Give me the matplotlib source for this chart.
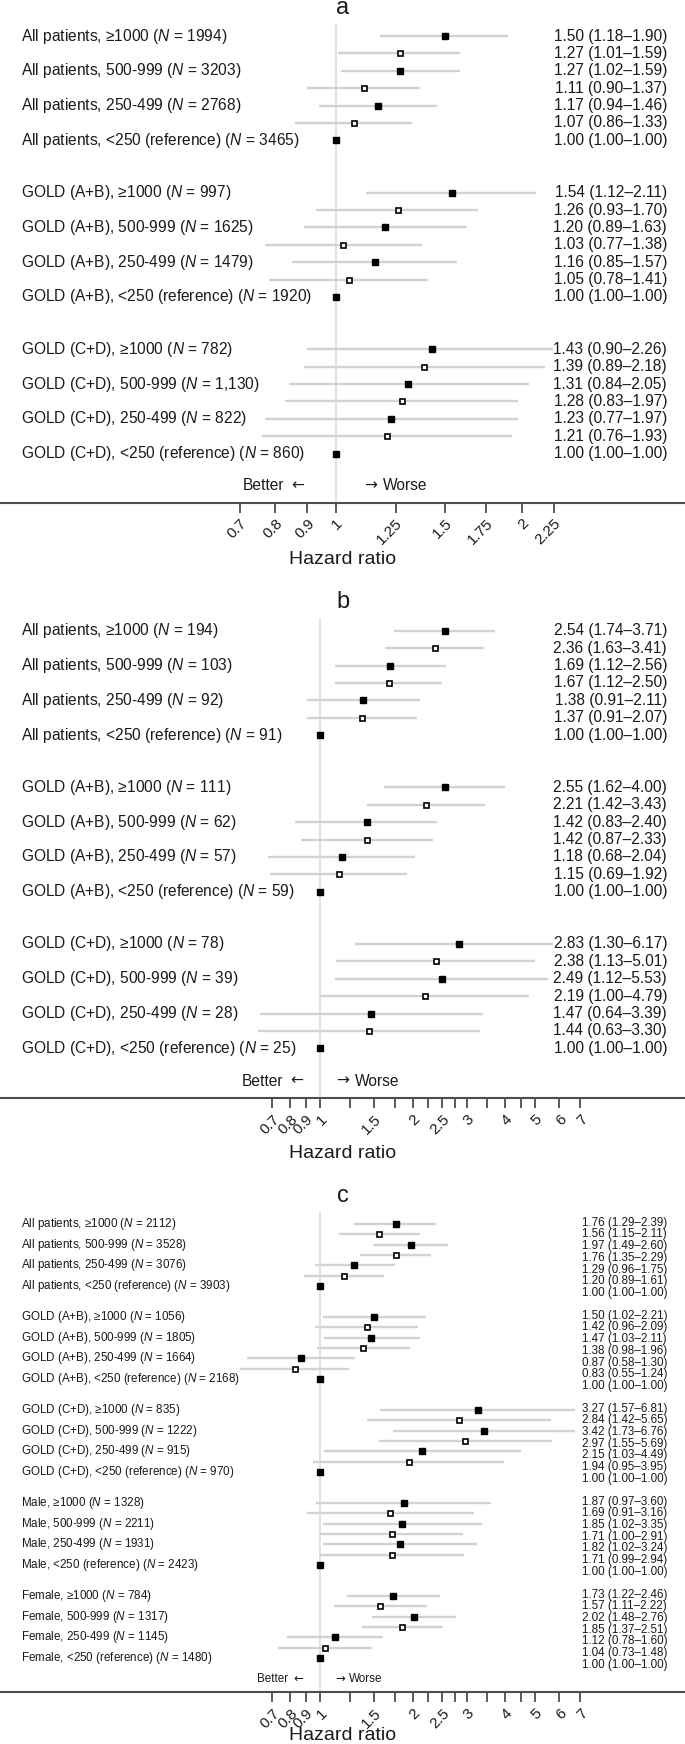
import numpy as np
import matplotlib
matplotlib.use('Agg')
import matplotlib.pyplot as plt
from matplotlib.ticker import NullFormatter
from matplotlib.transforms import blended_transform_factory, Bbox, TransformedBbox

# dose categories shown as row labels (filled squares); each group has 7 rows,
# filled and open squares alternating
levels = ['≥1000', '500-999', '250-499', '<250 (reference)']

# panel a
a_groups = ['All patients', 'GOLD (A+B)', 'GOLD (C+D)']
a_n = [['1994', '3203', '2768', '3465'],
       ['997', '1625', '1479', '1920'],
       ['782', '1,130', '822', '860']]
a_hr = [[1.50, 1.27, 1.27, 1.11, 1.17, 1.07, 1.00],
        [1.54, 1.26, 1.20, 1.03, 1.16, 1.05, 1.00],
        [1.43, 1.39, 1.31, 1.28, 1.23, 1.21, 1.00]]
a_lo = [[1.18, 1.01, 1.02, 0.90, 0.94, 0.86, 1.00],
        [1.12, 0.93, 0.89, 0.77, 0.85, 0.78, 1.00],
        [0.90, 0.89, 0.84, 0.83, 0.77, 0.76, 1.00]]
a_hi = [[1.90, 1.59, 1.59, 1.37, 1.46, 1.33, 1.00],
        [2.11, 1.70, 1.63, 1.38, 1.57, 1.41, 1.00],
        [2.26, 2.18, 2.05, 1.97, 1.97, 1.93, 1.00]]
a_ticks = [0.7, 0.8, 0.9, 1, 1.25, 1.5, 1.75, 2, 2.25]
a_ticklabels = ['0.7', '0.8', '0.9', '1', '1.25', '1.5', '1.75', '2', '2.25']

# panel b
b_groups = ['All patients', 'GOLD (A+B)', 'GOLD (C+D)']
b_n = [['194', '103', '92', '91'],
       ['111', '62', '57', '59'],
       ['78', '39', '28', '25']]
b_hr = [[2.54, 2.36, 1.69, 1.67, 1.38, 1.37, 1.00],
        [2.55, 2.21, 1.42, 1.42, 1.18, 1.15, 1.00],
        [2.83, 2.38, 2.49, 2.19, 1.47, 1.44, 1.00]]
b_lo = [[1.74, 1.63, 1.12, 1.12, 0.91, 0.91, 1.00],
        [1.62, 1.42, 0.83, 0.87, 0.68, 0.69, 1.00],
        [1.30, 1.13, 1.12, 1.00, 0.64, 0.63, 1.00]]
b_hi = [[3.71, 3.41, 2.56, 2.50, 2.11, 2.07, 1.00],
        [4.00, 3.43, 2.40, 2.33, 2.04, 1.92, 1.00],
        [6.17, 5.01, 5.53, 4.79, 3.39, 3.30, 1.00]]

# panel c
c_groups = ['All patients', 'GOLD (A+B)', 'GOLD (C+D)', 'Male', 'Female']
c_n = [['2112', '3528', '3076', '3903'],
       ['1056', '1805', '1664', '2168'],
       ['835', '1222', '915', '970'],
       ['1328', '2211', '1931', '2423'],
       ['784', '1317', '1145', '1480']]
c_hr = [[1.76, 1.56, 1.97, 1.76, 1.29, 1.20, 1.00],
        [1.50, 1.42, 1.47, 1.38, 0.87, 0.83, 1.00],
        [3.27, 2.84, 3.42, 2.97, 2.15, 1.94, 1.00],
        [1.87, 1.69, 1.85, 1.71, 1.82, 1.71, 1.00],
        [1.73, 1.57, 2.02, 1.85, 1.12, 1.04, 1.00]]
c_lo = [[1.29, 1.15, 1.49, 1.35, 0.96, 0.89, 1.00],
        [1.02, 0.96, 1.03, 0.98, 0.58, 0.55, 1.00],
        [1.57, 1.42, 1.73, 1.55, 1.03, 0.95, 1.00],
        [0.97, 0.91, 1.02, 1.00, 1.02, 0.99, 1.00],
        [1.22, 1.11, 1.48, 1.37, 0.78, 0.73, 1.00]]
c_hi = [[2.39, 2.11, 2.60, 2.29, 1.75, 1.61, 1.00],
        [2.21, 2.09, 2.11, 1.96, 1.30, 1.24, 1.00],
        [6.81, 5.65, 6.76, 5.69, 4.49, 3.95, 1.00],
        [3.60, 3.16, 3.35, 2.91, 3.24, 2.94, 1.00],
        [2.46, 2.22, 2.76, 2.51, 1.60, 1.48, 1.00]]

# panels b and c share the same log axis
bc_ticks = [0.7, 0.8, 0.9, 1, 1.5, 2, 2.5, 3, 4, 5, 6, 7]
bc_ticklabels = ['0.7', '0.8', '0.9', '1', '1.5', '2', '2.5', '3', '4', '5', '6', '7']
bc_minor = [1.25, 1.75, 2.25, 2.75, 3.5, 4.5]

W, H = 685, 1744
GREY = '#4d4d4d'
INK = '#1a1a1a'


def draw_panel(fig, title, groups, n, hr, lo, hi, ticks, ticklabels, minor,
               geo, fs):
    # geo holds the pixel layout of the panel
    top, first, step, axis_y = geo['top'], geo['first'], geo['step'], geo['axis']
    ax = fig.add_axes([0, 1 - axis_y / H, 1, (axis_y - top) / H])
    ax.set_xscale('log')
    ref, scale = geo['ref'], geo['scale']
    ax.set_xlim(np.exp(-ref / scale), np.exp((W - ref) / scale))
    ax.set_ylim((axis_y - first) / step, (top - first) / step)

    trans = blended_transform_factory(ax.transAxes, ax.transData)
    clip = TransformedBbox(Bbox.from_extents(0, 0, geo['clip'] / W, 1), ax.transAxes)

    ax.axvline(1, color='#dcdcdc', lw=1.2, zorder=1)

    for g, name in enumerate(groups):
        for i in range(7):
            row = g * 9 + i
            line, = ax.plot([lo[g][i], hi[g][i]], [row, row], color='#d2d2d2',
                            lw=1.7, solid_capstyle='butt', zorder=2)
            line.set_clip_box(clip)
            if i % 2 == 0:
                ax.plot(hr[g][i], row, 's', ms=4.3, color='black', zorder=3)
            else:
                ax.plot(hr[g][i], row, 's', ms=3.6, mfc='white', mec='black',
                        mew=1.2, zorder=3)
            ax.text(667 / W, g * 9 + geo['tshift'] + i * geo['tstep'],
                    f'{hr[g][i]:.2f} ({lo[g][i]:.2f}–{hi[g][i]:.2f})',
                    transform=trans, ha='right', va='center', fontsize=fs,
                    color=INK)
        for k, lev in enumerate(levels):
            ax.text(21 / W, g * 9 + 2 * k, f'{name}, {lev} ($N$ = {n[g][k]})',
                    transform=trans, ha='left', va='center', fontsize=fs,
                    color=INK)

    # better / worse captions, arrows drawn in DejaVu for a longer glyph
    brow = (geo['better'] - first) / step
    k = fs / 11.2
    ax.text((geo['bx'] - 20 * k) / W, brow, 'Better', transform=trans,
            ha='right', va='center', fontsize=fs, color=INK)
    ax.text(geo['bx'] / W, brow, '←', transform=trans, ha='right',
            va='center', fontsize=fs, color=INK, family='DejaVu Sans')
    ax.text(geo['wx'] / W, brow, '→', transform=trans, ha='left',
            va='center', fontsize=fs, color=INK, family='DejaVu Sans')
    ax.text((geo['wx'] + 19 * k) / W, brow, 'Worse', transform=trans,
            ha='left', va='center', fontsize=fs, color=INK)

    for side in ['top', 'left', 'right']:
        ax.spines[side].set_visible(False)
    ax.spines['bottom'].set_color(GREY)
    ax.spines['bottom'].set_linewidth(1.5)
    ax.set_yticks([])
    ax.set_xticks(ticks)
    ax.set_xticklabels(ticklabels)
    ax.set_xticks(minor, minor=True)
    ax.xaxis.set_minor_formatter(NullFormatter())
    ax.tick_params(axis='x', which='both', direction='out', length=7, width=1.3,
                   color=GREY, labelsize=11, pad=3, labelcolor=INK)
    plt.setp(ax.get_xticklabels(), rotation=45, ha='right', va='top',
             rotation_mode='anchor')

    fig.text(0.5, 1 - geo['title'] / H, title, ha='center', va='center',
             fontsize=17, color=INK)
    fig.text(0.5, 1 - geo['xlabel'] / H, 'Hazard ratio', ha='center',
             va='center', fontsize=14, color=INK)
    return ax


if __name__ == '__main__':
    plt.rcParams['font.family'] = ['Liberation Sans', 'DejaVu Sans']
    plt.rcParams['mathtext.fontset'] = 'custom'
    plt.rcParams['mathtext.rm'] = 'Liberation Sans'
    plt.rcParams['mathtext.it'] = 'Liberation Sans:italic'

    fig = plt.figure(figsize=(W / 100, H / 100), dpi=100)

    geo_a = dict(top=22.7, first=36, step=17.4, axis=502.7, better=486,
                 ref=335.5, scale=269, clip=553, tstep=1, tshift=0,
                 bx=304, wx=364, title=8, xlabel=559)
    geo_b = dict(top=618.3, first=630.7, step=17.4, axis=1098.3, better=1081,
                 ref=320, scale=133.6, clip=553, tstep=1, tshift=0,
                 bx=303, wx=336, title=602, xlabel=1153)
    geo_c = dict(top=1211.7, first=1224, step=10.33, axis=1692.3, better=1678.7,
                 ref=320, scale=133.6, clip=575, tstep=1.135, tshift=-0.13,
                 bx=303, wx=335, title=1196, xlabel=1735)

    draw_panel(fig, 'a', a_groups, a_n, a_hr, a_lo, a_hi, a_ticks, a_ticklabels,
               [], geo_a, 11.2)
    draw_panel(fig, 'b', b_groups, b_n, b_hr, b_lo, b_hi, bc_ticks, bc_ticklabels,
               bc_minor, geo_b, 11.2)
    draw_panel(fig, 'c', c_groups, c_n, c_hr, c_lo, c_hi, bc_ticks, bc_ticklabels,
               bc_minor, geo_c, 8.4)

    fig.savefig('out.png', dpi=100, facecolor='white')
